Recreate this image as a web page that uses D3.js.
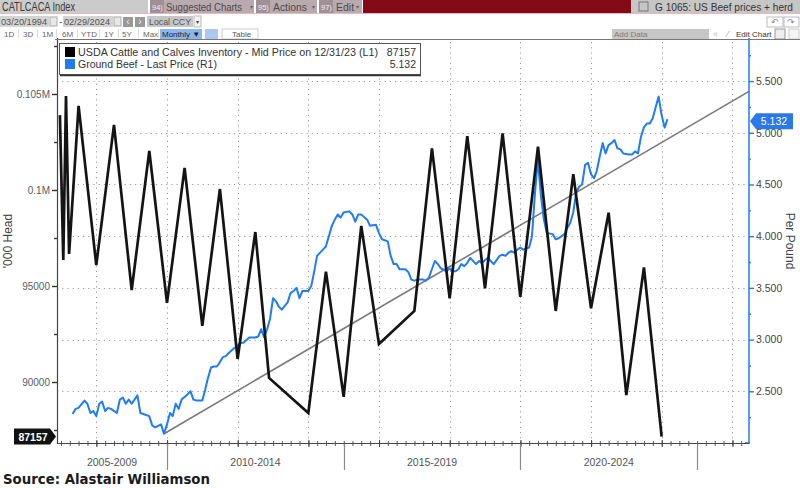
<!DOCTYPE html>
<html><head><meta charset="utf-8">
<script src="https://cdn.jsdelivr.net/npm/d3@7"></script>
<style>
body{margin:0;background:#fff;}
svg{display:block;font-family:"Liberation Sans",Arial,sans-serif;}
</style>
</head><body>
<svg id="c" width="800" height="488"></svg>
<script>
// ---------------- DATA ----------------
const cattleDates = ["2006-12-20","2007-01-24","2007-02-21","2007-03-25","2007-07-01","2007-12-31",
  "2008-07-01","2008-12-31","2009-07-01","2009-12-31","2010-07-01","2010-12-31","2011-07-01","2011-12-31",
  "2012-07-01","2012-11-20","2013-12-31","2014-07-01","2014-12-31","2015-07-01","2015-12-31","2016-12-31",
  "2017-07-01","2017-12-31","2018-07-01","2018-12-31","2019-07-01","2019-12-31","2020-07-01","2020-12-31",
  "2021-07-01","2021-12-31","2022-07-01","2022-12-31","2023-07-01","2023-12-31"];
const cattleValues = [103900,96350,104900,96670,104380,96090,
  103390,94790,102030,94120,101150,92920,100050,91200,
  97810,90210,88390,95750,89230,98130,91980,93700,
  102170,94360,102810,94880,102950,94440,102260,93700,
  100830,93840,98820,89320,95970,87157];

const beefMonths = ["2007-04","2007-05","2007-06","2007-08","2007-09","2007-10","2007-11","2007-12",
  "2008-01","2008-02","2008-03","2008-04","2008-05","2008-07","2008-08","2008-09","2008-10","2008-11","2008-12",
  "2009-02","2009-03","2009-04","2009-06","2009-07","2009-08","2009-10","2009-11","2009-12",
  "2010-01","2010-02","2010-03","2010-04","2010-05","2010-07","2010-08","2010-09","2010-10","2010-12",
  "2011-01","2011-02","2011-03","2011-04","2011-05","2011-06","2011-07","2011-08","2011-09","2011-11","2011-12",
  "2012-01","2012-02","2012-04","2012-05","2012-06","2012-07","2012-08","2012-09","2012-10","2012-11","2012-12",
  "2013-01","2013-02","2013-03","2013-05","2013-06","2013-07","2013-08","2013-09","2013-10","2013-12",
  "2014-01","2014-02","2014-03","2014-05","2014-06","2014-07","2014-08","2014-09","2014-10","2014-11","2014-12",
  "2015-02","2015-03","2015-04","2015-05","2015-06","2015-08","2015-09","2015-11","2015-12",
  "2016-01","2016-03","2016-04","2016-05","2016-06","2016-07","2016-09","2016-10","2016-11","2016-12",
  "2017-01","2017-03","2017-04","2017-05","2017-06","2017-07","2017-08","2017-09","2017-11","2017-12",
  "2018-01","2018-02","2018-03","2018-04","2018-05","2018-06","2018-07","2018-09","2018-10","2018-11","2018-12",
  "2019-01","2019-02","2019-03","2019-05","2019-06","2019-07","2019-08","2019-09","2019-10","2019-11","2019-12",
  "2020-01","2020-03","2020-04","2020-05","2020-06","2020-07","2020-08","2020-09","2020-11","2020-12",
  "2021-01","2021-03","2021-04","2021-05","2021-06","2021-07","2021-08","2021-09","2021-10","2021-11","2021-12",
  "2022-01","2022-02","2022-03","2022-04","2022-05","2022-06","2022-07","2022-08","2022-09","2022-10","2022-11",
  "2023-01","2023-02","2023-03","2023-04","2023-05","2023-06","2023-07","2023-08","2023-09","2023-10","2023-11","2023-12",
  "2024-01","2024-02"];
const beefPrices = [2.28,2.33,2.34,2.41,2.38,2.29,2.31,2.26,
  2.38,2.40,2.31,2.34,2.33,2.29,2.42,2.44,2.38,2.42,2.38,
  2.46,2.29,2.28,2.26,2.17,2.15,2.18,2.09,2.18,
  2.29,2.26,2.38,2.33,2.42,2.47,2.50,2.42,2.41,2.41,
  2.52,2.63,2.73,2.74,2.74,2.78,2.83,2.84,2.87,2.92,2.94,
  2.97,2.97,3.02,3.02,3.02,3.03,3.10,3.02,3.10,3.20,3.40,
  3.37,3.32,3.29,3.36,3.45,3.47,3.50,3.40,3.47,3.47,
  3.52,3.65,3.81,3.87,3.90,4.00,4.10,4.16,4.21,4.18,4.23,
  4.24,4.21,4.14,4.21,4.21,4.16,4.10,4.11,4.03,
  3.97,3.95,3.81,3.73,3.73,3.68,3.68,3.65,3.58,3.57,
  3.58,3.58,3.57,3.60,3.68,3.76,3.73,3.69,3.66,3.69,
  3.66,3.66,3.68,3.73,3.71,3.74,3.79,3.73,3.76,3.74,3.77,
  3.79,3.76,3.73,3.81,3.82,3.81,3.84,3.855,3.84,3.87,3.89,
  3.87,3.89,4.00,4.42,4.74,4.39,4.16,4.03,4.02,3.97,
  3.98,4.02,4.08,4.13,4.23,4.42,4.48,4.50,4.69,4.71,4.60,
  4.56,4.63,4.77,4.90,4.80,4.88,4.90,4.93,4.85,4.84,4.80,
  4.79,4.79,4.82,4.80,4.96,5.05,5.09,5.09,5.14,5.25,5.35,5.17,
  5.05,5.132];

const trendDates = ["2009-11-30","2026-06-21"];
const trendValues = [2.09,5.40];

const leftTicks = [90000,95000,100000,105000];
const leftTickLabels = ["90000","95000","0.1M","0.105M"];
const leftMinorTicks = [87500,92500,97500,102500,107500];
const rightTicks = [2.5,3.0,3.5,4.0,4.5,5.0,5.5];
const rightMinorTicks = [2.25,2.75,3.25,3.75,4.25,4.75,5.25,5.75];
const periodBounds = ["2005-01-01","2010-01-01","2015-01-01","2020-01-01","2025-01-01","2030-01-01"];
const periodLabels = ["2005-2009","2010-2014","2015-2019","2020-2024"];

const seriesNames = ["USDA Cattle and Calves Inventory - Mid Price on 12/31/23 (L1)","Ground Beef - Last Price (R1)"];

// ---------------- SETUP ----------------
const svg = d3.select("#c");
const M = {left:57, right:749, top:42, bottom:443};
const pDay = d3.timeParse("%Y-%m-%d");
const pMonth = d3.timeParse("%Y-%m");
const monthEnd = s => d3.timeDay.offset(d3.timeMonth.offset(pMonth(s),1),-1);

const x = d3.scaleTime().domain([pDay("2006-11-20"), pDay("2026-06-21")]).range([M.left, M.right]);
const yL = d3.scaleLinear().domain([86823,107708]).range([M.bottom, M.top]);
const yR = d3.scaleLinear().domain([2.0,5.878]).range([M.bottom, M.top]);

const BLACK="#141414", BLUE="#1f7cf6";

// ---------------- GRID ----------------
const grid = svg.append("g");
grid.selectAll("line.v").data(x.ticks(d3.timeYear.every(2))).join("line")
  .attr("x1",d=>Math.round(x(d))+0.5).attr("x2",d=>Math.round(x(d))+0.5)
  .attr("y1",M.top).attr("y2",M.bottom)
  .attr("stroke","#9a9a9a").attr("stroke-width",1).attr("stroke-dasharray","1.2,4");
grid.selectAll("line.h").data(rightTicks).join("line")
  .attr("x1",M.left).attr("x2",M.right)
  .attr("y1",d=>Math.round(yR(d))+0.5).attr("y2",d=>Math.round(yR(d))+0.5)
  .attr("stroke","#9a9a9a").attr("stroke-width",1).attr("stroke-dasharray","1.2,4");

// ---------------- SERIES ----------------
const trend = trendDates.map((d,i)=>({d:pDay(d), v:trendValues[i]}));
svg.append("path").datum(trend)
  .attr("d", d3.line().x(p=>x(p.d)).y(p=>yR(p.v)))
  .attr("fill","none").attr("stroke","#7a7a7a").attr("stroke-width",1.6);

const beef = beefMonths.map((m,i)=>({d:monthEnd(m), v:beefPrices[i]}));
svg.append("path").datum(beef)
  .attr("d", d3.line().x(p=>x(p.d)).y(p=>yR(p.v)))
  .attr("fill","none").attr("stroke",BLUE).attr("stroke-width",2).attr("stroke-linejoin","round");

const cattle = cattleDates.map((d,i)=>({d:pDay(d), v:cattleValues[i]}));
svg.append("path").datum(cattle)
  .attr("d", d3.line().x(p=>x(p.d)).y(p=>yL(p.v)))
  .attr("fill","none").attr("stroke",BLACK).attr("stroke-width",2.7).attr("stroke-linejoin","miter");

// ---------------- AXES ----------------
const gL = svg.append("g").attr("transform",`translate(${M.left},0)`);
gL.call(d3.axisLeft(yL).tickValues(leftTicks).tickSize(5).tickPadding(2)
  .tickFormat((d,i)=>leftTickLabels[i]));
gL.append("g").call(d3.axisLeft(yL).tickValues(leftMinorTicks).tickSize(3).tickFormat(""));
gL.selectAll(".domain").remove();
gL.append("line").attr("x1",0.5).attr("x2",0.5).attr("y1",38).attr("y2",M.bottom+1).attr("stroke","#444").attr("stroke-width",1.2);
gL.selectAll(".tick line").attr("stroke","#333").attr("stroke-width",1.4);
gL.selectAll("text").attr("font-size",10).attr("fill","#5a5a6a").attr("font-family","Liberation Sans, Arial");

const gR = svg.append("g").attr("transform",`translate(${M.right},0)`);
gR.call(d3.axisRight(yR).tickValues(rightTicks).tickSize(5).tickPadding(2).tickFormat(d3.format(".3f")));
gR.append("g").call(d3.axisRight(yR).tickValues(rightMinorTicks).tickSize(2).tickFormat(""));
gR.selectAll(".domain").remove();
gR.append("line").attr("x1",0).attr("x2",0).attr("y1",38).attr("y2",M.bottom).attr("stroke",BLUE).attr("stroke-width",1.5);
gR.append("line").attr("x1",-4).attr("x2",1).attr("y1",M.bottom).attr("y2",M.bottom).attr("stroke",BLUE).attr("stroke-width",1.5);
gR.selectAll(".tick line").attr("stroke",BLUE).attr("stroke-width",1.4);
gR.selectAll("text").attr("font-size",10.5).attr("fill","#444").attr("font-family","Liberation Sans, Arial");

const gB = svg.append("g").attr("transform",`translate(0,${M.bottom})`);
gB.append("line").attr("x1",M.left).attr("x2",M.right).attr("y1",0.5).attr("y2",0.5).attr("stroke","#444").attr("stroke-width",1.2);
const gBm = gB.append("g").call(d3.axisBottom(x).ticks(d3.timeMonth.every(3)).tickSize(3).tickFormat(""));
gBm.selectAll(".domain").remove();
gBm.selectAll(".tick line").attr("stroke","#555").attr("y1",-2);
const gBy = gB.append("g").call(d3.axisBottom(x).ticks(d3.timeYear.every(2)).tickSize(4).tickFormat(""));
gBy.selectAll(".domain").remove();
gBy.selectAll(".tick line").attr("stroke","#444").attr("y1",-3);
const bounds = periodBounds.map(pDay);
const inner = bounds.filter(d=>d>x.domain()[0] && d<x.domain()[1]);
gB.selectAll("line.sep").data(inner).join("line")
  .attr("x1",d=>Math.round(x(d))+0.5).attr("x2",d=>Math.round(x(d))+0.5)
  .attr("y1",1).attr("y2",27).attr("stroke","#8a8a8a").attr("stroke-width",1.2);
gB.selectAll("text.per").data(periodLabels).join("text")
  .attr("x",(d,i)=>{const a=Math.max(x(bounds[i]),M.left), b=Math.min(x(bounds[i+1]),M.right); return (a+b)/2;})
  .attr("y",23).attr("text-anchor","middle").attr("font-size",10.5).attr("fill","#555")
  .text(d=>d);

svg.append("text").attr("transform","translate(12,241) rotate(-90)").attr("text-anchor","middle")
  .attr("font-size",12).attr("fill","#444").text("'000 Head");
svg.append("text").attr("transform","translate(786,241) rotate(90)").attr("text-anchor","middle")
  .attr("font-size",12).attr("fill","#444").text("Per Pound");

// Last value tags
const lastC = cattle[cattle.length-1], lastB = beef[beef.length-1];
{
  const cy = yL(lastC.v);
  svg.append("path").attr("d",`M14,${cy-8} H50 L56,${cy} L50,${cy+8} H14 Z`).attr("fill","#111");
  svg.append("text").attr("x",33).attr("y",cy+4).attr("text-anchor","middle").attr("font-size",10.5)
    .attr("font-weight","bold").attr("fill","#fff").text(String(lastC.v));
}
{
  const cy = yR(lastB.v)+2;
  svg.append("path").attr("d",`M750,${cy} L756,${cy-8} H793 V${cy+8} H756 Z`).attr("fill","#2a78ea");
  svg.append("text").attr("x",774).attr("y",cy+4).attr("text-anchor","middle").attr("font-size",10.5)
    .attr("fill","#fff").text(d3.format(".3f")(lastB.v));
}

// Legend
const lg = svg.append("g");
lg.append("rect").attr("x",59.5).attr("y",43.5).attr("width",361).attr("height",31).attr("fill","#fff")
  .attr("stroke","#555").attr("stroke-width",1);
lg.append("line").attr("x1",60).attr("x2",421).attr("y1",75.5).attr("y2",75.5).attr("stroke","#333").attr("stroke-width",1.5);
const legendRows = [
  {name:seriesNames[0], color:"#000", val:String(lastC.v)},
  {name:seriesNames[1], color:BLUE, val:d3.format(".3f")(lastB.v)}
];
legendRows.forEach((r,i)=>{
  const yy = 47 + i*12;
  lg.append("rect").attr("x",65).attr("y",yy).attr("width",10).attr("height",10).attr("fill",r.color);
  const t = lg.append("text").attr("x",78).attr("y",yy+9).attr("font-size",10.5).attr("fill","#333").text(r.name);
  if(i===0) t.attr("textLength",300).attr("lengthAdjust","spacingAndGlyphs");
  lg.append("text").attr("x",416).attr("y",yy+9).attr("text-anchor","end").attr("font-size",10.5).attr("fill","#333").text(r.val);
});

// Source
svg.append("text").attr("x",3).attr("y",484).attr("font-family","DejaVu Sans, Verdana, sans-serif")
  .attr("font-weight","bold").attr("font-size",13.5).attr("fill","#1a1a1a")
  .attr("textLength",207).attr("lengthAdjust","spacingAndGlyphs").text("Source: Alastair Williamson");

// ---------------- TOOLBAR ----------------
const tb = svg.append("g").attr("font-family","Liberation Sans, Arial, sans-serif");
function box(x0,y0,w,h,fill,stroke){ tb.append("rect").attr("x",x0).attr("y",y0).attr("width",w).attr("height",h).attr("fill",fill).attr("stroke",stroke||"none"); }
function txt(x0,y0,s,size,fill,anchor,len){ const t=tb.append("text").attr("x",x0).attr("y",y0).attr("font-size",size).attr("fill",fill).attr("text-anchor",anchor||"start").text(s); if(len) t.attr("textLength",len).attr("lengthAdjust","spacingAndGlyphs"); }
// row 1
box(0,0,148,13,"#cbcbcb"); txt(2,11,"CATLCACA Index",12,"#3a3a3a","start",73);
box(150,0,104,13,"#b9aab0"); box(150,0,14,13,"#a08f96"); txt(152,10,"94)",7.5,"#eee"); txt(166,11,"Suggested Charts",10.5,"#4a4a4a","start",76); txt(250,9,"▾",6,"#666");
box(256,0,61,13,"#b9aab0"); box(256,0,14,13,"#a08f96"); txt(258,10,"95)",7.5,"#eee"); txt(273,11,"Actions",10.5,"#4a4a4a","start",34); txt(312,9,"▾",6,"#666");
box(319,0,43,13,"#b9aab0"); box(319,0,14,13,"#a08f96"); txt(321,10,"97)",7.5,"#eee"); txt(336,11,"Edit",10.5,"#4a4a4a"); txt(356,9,"▾",6,"#666");
box(363,0,268,13,"#850a18");
box(631,0,169,13,"#c6c6c6"); box(639,2,9,9,"#c6c6c6","#777"); txt(655,11,"G 1065: US Beef prices + herd",10.5,"#333","start",138);
tb.append("line").attr("x1",0).attr("x2",800).attr("y1",13.5).attr("y2",13.5).attr("stroke","#e5b8c0");
// row 2
box(0,16,49,11,"#d4d4d4"); txt(1,25,"03/20/1994",9.5,"#555","start",46); box(50,17,7,9,"#e8e8e8","#aaa");
txt(59,25,"-",10,"#555");
box(63,16,50,11,"#d4d4d4"); txt(64,25,"02/29/2024",9.5,"#555","start",46); box(114,17,7,9,"#e8e8e8","#aaa");
box(123,17,10,10,"#999"); txt(128,25,"‹",10,"#eee","middle");
box(135,17,10,10,"#999"); txt(140,25,"›",10,"#eee","middle");
box(147,16,46,11,"#c6c6c6"); txt(149,25,"Local CCY",9.5,"#555","start",42); box(194,16,7,11,"#f2f2f2","#bbb"); txt(197.5,24,"▾",6,"#444","middle");
box(767,17,16,10,"#fff","#bbb"); txt(775,25,"↶",9,"#888","middle");
box(784,17,15,10,"#fff","#bbb"); txt(791,25,"↷",9,"#888","middle");
// row 3
const rangeBtns = [["1D",4],["3D",23],["1M",42],["6M",62],["YTD",81],["1Y",104],["5Y",122],["Max",143]];
rangeBtns.forEach(([s,xx])=>txt(xx,37,s,8,"#666"));
[18,37,56,77,99,118,138,158].forEach(xx=>tb.append("line").attr("x1",xx+0.5).attr("x2",xx+0.5).attr("y1",29).attr("y2",38).attr("stroke","#ddd"));
box(160,29,42,10,"#8db6ec"); txt(162,37,"Monthly ▼",8,"#223");
box(205,29,13,10,"#a9c8f2");
box(222,29,36,10,"#fff","#ccc"); txt(232,37,"Table",8,"#555");
box(612,29,97,10,"#c6c6c6"); txt(614,37,"Add Data",8,"#8a7a6a");
txt(713,37,"«",9,"#bbb"); txt(727,37,"⁄",9,"#999");
txt(736,37,"Edit Chart",8,"#333");
box(775,29,10,10,"#eee","#999"); box(789,29,10,10,"#f5f5f5","#ccc");
tb.append("line").attr("x1",55).attr("x2",800).attr("y1",39.5).attr("y2",39.5).attr("stroke","#777").attr("stroke-width",1);
</script>
</body></html>
